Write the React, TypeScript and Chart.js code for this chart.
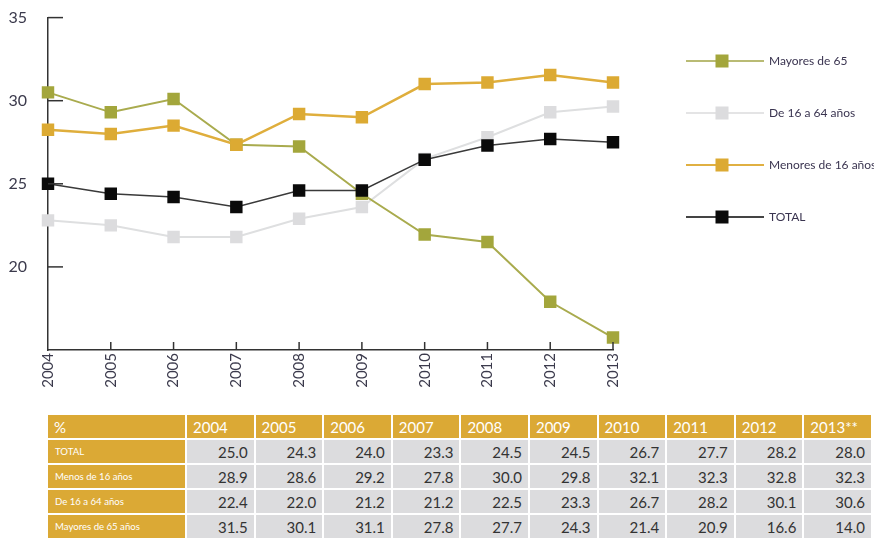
import React, { useEffect, useRef } from "react";
import { Chart, registerables } from "chart.js";

Chart.register(...registerables);

const years = ["2004", "2005", "2006", "2007", "2008", "2009", "2010", "2011", "2012", "2013"];
const totalSeries = [25.0, 24.4, 24.2, 23.6, 24.6, 24.6, 26.45, 27.3, 27.7, 27.5];
const menoresSeries = [28.25, 28.0, 28.5, 27.35, 29.2, 29.0, 31.0, 31.1, 31.55, 31.1];
const mayoresSeries = [30.5, 29.3, 30.1, 27.35, 27.25, 24.4, 21.95, 21.5, 17.9, 15.75];
const de16Series = [22.8, 22.5, 21.8, 21.8, 22.9, 23.6, 26.5, 27.8, 29.3, 29.65];
const yTicks = [20, 25, 30, 35];

const tableHeader = ["%", "2004", "2005", "2006", "2007", "2008", "2009", "2010", "2011", "2012", "2013**"];
const tableRowLabels = ["TOTAL", "Menos de 16 años", "De 16 a 64 años", "Mayores de 65 años"];
const tableTotal = ["25.0", "24.3", "24.0", "23.3", "24.5", "24.5", "26.7", "27.7", "28.2", "28.0"];
const tableMenos = ["28.9", "28.6", "29.2", "27.8", "30.0", "29.8", "32.1", "32.3", "32.8", "32.3"];
const tableDe16 = ["22.4", "22.0", "21.2", "21.2", "22.5", "23.3", "26.7", "28.2", "30.1", "30.6"];
const tableMayores = ["31.5", "30.1", "31.1", "27.8", "27.7", "24.3", "21.4", "20.9", "16.6", "14.0"];
const tableRows = [tableTotal, tableMenos, tableDe16, tableMayores];

const legendItems = [
  { label: "Mayores de 65", line: "#b9bb74", fill: "#a3a63c" },
  { label: "De 16 a 64 años", line: "#e4e4e5", fill: "#dcdcde" },
  { label: "Menores de 16 años", line: "#e0b042", fill: "#dcaa33" },
  { label: "TOTAL", line: "#444444", fill: "#0a0a0a" },
];

const FONT = "Lato, 'Open Sans', sans-serif";
const GOLD = "#dba935";

const customPlugin = {
  id: "customDecor",
  afterDraw(chart: any) {
    const ctx = chart.ctx;
    const area = chart.chartArea;
    const ys = chart.scales.y;
    const xs = chart.scales.x;
    ctx.save();
    ctx.strokeStyle = "#333333";
    ctx.lineWidth = 1.5;
    yTicks.forEach((v) => {
      const py = ys.getPixelForValue(v);
      ctx.beginPath();
      ctx.moveTo(area.left, py);
      ctx.lineTo(area.left + 15, py);
      ctx.stroke();
    });
    years.forEach((_, i) => {
      if (i === 0) return;
      const px = xs.getPixelForValue(i);
      ctx.beginPath();
      ctx.moveTo(px, area.bottom);
      ctx.lineTo(px, area.bottom - 8);
      ctx.stroke();
    });
    const lx = area.right + 73;
    legendItems.forEach((it, i) => {
      const cy = 53 + i * 52;
      ctx.strokeStyle = it.line;
      ctx.lineWidth = 2;
      ctx.beginPath();
      ctx.moveTo(lx, cy);
      ctx.lineTo(lx + 78, cy);
      ctx.stroke();
      ctx.fillStyle = it.fill;
      ctx.fillRect(lx + 36 - 6.5, cy - 6.5, 13, 13);
      ctx.fillStyle = "#3a3450";
      ctx.font = `12px ${FONT}`;
      ctx.textAlign = "left";
      ctx.textBaseline = "middle";
      ctx.fillText(it.label, lx + 83, cy);
    });
    ctx.restore();
  },
};

function ChartView() {
  const ref = useRef<HTMLCanvasElement | null>(null);
  useEffect(() => {
    if (!ref.current) return;
    const mk = (data: number[], line: string, fill: string, width: number) => ({
      data,
      borderColor: line,
      backgroundColor: fill,
      borderWidth: width,
      pointStyle: "rect" as const,
      pointRadius: 8.8,
      pointBorderWidth: 0,
      pointBackgroundColor: fill,
      pointBorderColor: fill,
      tension: 0,
    });
    const chart = new Chart(ref.current, {
      type: "line",
      data: {
        labels: years,
        datasets: [
          { label: "TOTAL", ...mk(totalSeries, "#3a3a3a", "#0a0a0a", 1.5) },
          { label: "Menores de 16 años", ...mk(menoresSeries, "#dfae3c", "#dcaa33", 2.5) },
          { label: "Mayores de 65", ...mk(mayoresSeries, "#a9ab4e", "#a3a63c", 2) },
          { label: "De 16 a 64 años", ...mk(de16Series, "#dedfe0", "#dcdcde", 2) },
        ],
      },
      options: {
        responsive: false,
        animation: false,
        layout: { padding: { left: 0, right: 261, top: 9, bottom: 0 } },
        plugins: { legend: { display: false }, tooltip: { enabled: false } },
        scales: {
          x: {
            offset: false,
            grid: { display: false, drawTicks: false },
            border: { display: true, color: "#333333", width: 1.5 },
            ticks: {
              maxRotation: 90,
              minRotation: 90,
              padding: 3,
              color: "#3b3a4c",
              font: { family: FONT, size: 15 },
            },
            afterFit: (s: any) => {
              s.height = 53;
            },
          },
          y: {
            min: 15,
            max: 35,
            grid: { display: false, drawTicks: true, tickLength: 21 },
            border: { display: true, color: "#333333", width: 1.5 },
            ticks: {
              stepSize: 5,
              padding: 0,
              color: "#3b3a4c",
              font: { family: FONT, size: 16 },
              callback: (v: any) => (v === 15 ? "" : String(v)),
            },
            afterFit: (s: any) => {
              s.width = 40;
            },
          },
        },
      },
      plugins: [customPlugin],
    });
    return () => chart.destroy();
  }, []);
  return (
    <div style={{ width: 866, height: 395 }}>
      <canvas ref={ref} width={866} height={395} style={{ display: "block" }} />
    </div>
  );
}

export default function App() {
  const cellBase: React.CSSProperties = {
    height: 23,
    padding: 0,
    boxSizing: "border-box",
    fontFamily: FONT,
    overflow: "hidden",
    whiteSpace: "nowrap",
  };
  return (
    <div>
      <ChartView />
      <table
        style={{
          marginTop: 10,
          marginLeft: 38,
          borderCollapse: "separate",
          borderSpacing: 2,
          tableLayout: "fixed",
          width: 827,
        }}
      >
        <colgroup>
          <col style={{ width: 137 }} />
          {years.map((y) => (
            <col key={y} style={{ width: 66.6 }} />
          ))}
        </colgroup>
        <tbody>
          <tr>
            {tableHeader.map((h) => (
              <td
                key={h}
                style={{
                  ...cellBase,
                  background: GOLD,
                  color: "#ffffff",
                  fontSize: 15,
                  paddingLeft: 6,
                  textAlign: "left",
                }}
              >
                {h}
              </td>
            ))}
          </tr>
          {tableRows.map((row, ri) => (
            <tr key={ri}>
              <td
                style={{
                  ...cellBase,
                  background: GOLD,
                  color: "#ffffff",
                  fontSize: 9.6,
                  paddingLeft: 7,
                  textAlign: "left",
                }}
              >
                {tableRowLabels[ri]}
              </td>
              {row.map((v, ci) => (
                <td
                  key={ci}
                  style={{
                    ...cellBase,
                    background: "#dcdcde",
                    color: "#333333",
                    fontSize: 15,
                    paddingRight: 6,
                    textAlign: "right",
                  }}
                >
                  {v}
                </td>
              ))}
            </tr>
          ))}
        </tbody>
      </table>
    </div>
  );
}
